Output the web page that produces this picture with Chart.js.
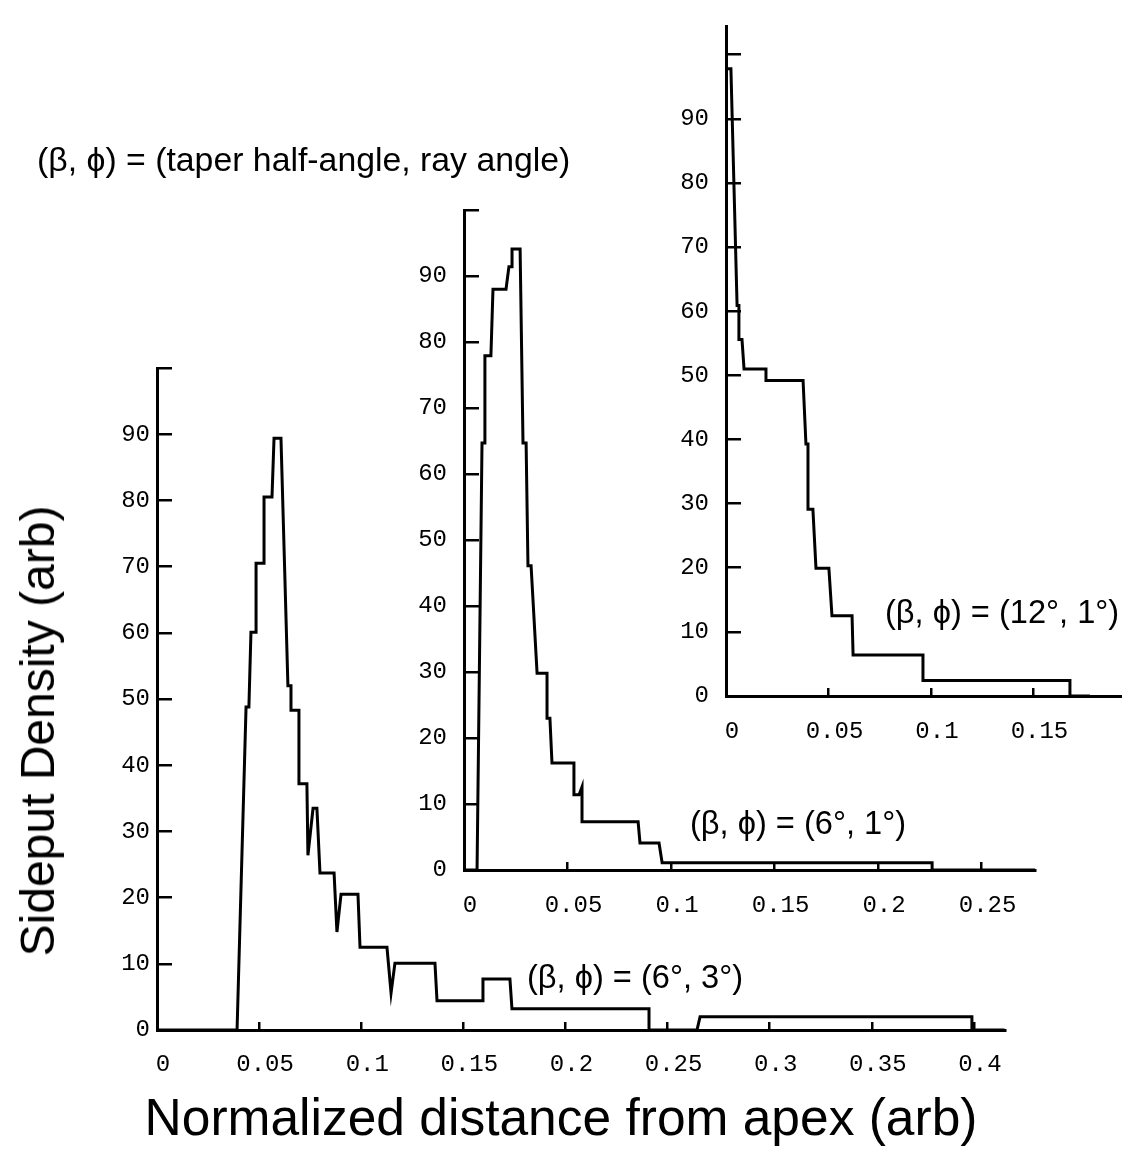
<!DOCTYPE html>
<html>
<head>
<meta charset="utf-8">
<script src="https://cdn.jsdelivr.net/npm/chart.js@4.4.1/dist/chart.umd.min.js"></script>
<style>
  body { margin: 0; background: #fff; }
  #wrap { position: relative; width: 1122px; height: 1154px; overflow: hidden; font-family: "Liberation Sans", Arial, sans-serif; color: #000; }
  canvas { position: absolute; left: 0; }
  .lbl { position: absolute; white-space: nowrap; line-height: 1; transform: translateY(-50%); }
</style>
</head>
<body>
<div id="wrap">
  <canvas id="panelA" width="1122" height="1154" style="top:0"></canvas>
  <canvas id="panelB" width="1122" height="1154" style="top:0"></canvas>
  <canvas id="panelC" width="1122" height="1174" style="top:-20px"></canvas>

  <div class="lbl" style="left:37px;top:160px;font-size:33.8px">(β, ϕ) = (taper half-angle, ray angle)</div>
  <div class="lbl" style="left:527px;top:977px;font-size:32.6px">(β, ϕ) = (6°, 3°)</div>
  <div class="lbl" style="left:690px;top:823px;font-size:32.6px">(β, ϕ) = (6°, 1°)</div>
  <div class="lbl" style="left:885px;top:612px;font-size:32.6px">(β, ϕ) = (12°, 1°)</div>

  <div class="lbl" style="left:38px;top:731px;font-size:48px;transform:translate(-50%,-50%) rotate(-90deg)">Sideput Density (arb)</div>
  <div class="lbl" style="left:561px;top:1118px;font-size:51.5px;transform:translate(-50%,-50%)">Normalized distance from apex (arb)</div>
</div>

<script>
// (beta, phi) = (6°, 3°) - big panel at the bottom left
const distA = [0, 0.0392, 0.0436, 0.0450, 0.0460, 0.0485, 0.0485, 0.0524, 0.0524, 0.0563, 0.0573, 0.0607, 0.0641, 0.0656, 0.0656, 0.0695, 0.0695, 0.0734, 0.0739, 0.0764, 0.0783, 0.0798, 0.0867, 0.0881, 0.0901, 0.0984, 0.0994, 0.1126, 0.1146, 0.1165, 0.1361, 0.1371, 0.1596, 0.1596, 0.1728, 0.1738, 0.2409, 0.2409, 0.2644, 0.2659, 0.3990, 0.3990, 0.415]
const densityA = [0, 0, 48.8, 48.8, 60.1, 60.1, 70.5, 70.5, 80.5, 80.5, 89.4, 89.4, 52, 52, 48.3, 48.3, 37.2, 37.2, 26.4, 33.5, 33.5, 23.7, 23.7, 14.8, 20.5, 20.5, 12.5, 12.5, 5.6, 10.1, 10.1, 4.4, 4.4, 7.7, 7.7, 3.2, 3.2, 0, 0, 2.0, 2.0, 0, 0]

// (6°, 1°) - middle panel
const distB = [0, 0.0063, 0.0087, 0.0101, 0.0101, 0.0130, 0.0140, 0.0203, 0.0217, 0.0232, 0.0232, 0.0271, 0.0285, 0.0300, 0.0309, 0.0324, 0.0353, 0.0401, 0.0401, 0.0415, 0.0425, 0.0531, 0.0531, 0.0556, 0.0570, 0.0570, 0.0841, 0.0850, 0.0942, 0.0957, 0.2261, 0.2261, 0.2758]
const densityB = [0, 0, 64.7, 64.7, 77.9, 77.9, 88.0, 88.0, 91.4, 91.4, 94.1, 94.1, 64.7, 64.7, 46.1, 46.1, 29.8, 29.8, 23.0, 23.0, 16.2, 16.2, 11.4, 11.4, 12.6, 7.3, 7.3, 4.1, 4.1, 1.1, 1.1, 0, 0]

// (12°, 1°) - top right panel
const distC = [0, 0, 0.0024, 0.0054, 0.0063, 0.0063, 0.0078, 0.0088, 0.0195, 0.0195, 0.0376, 0.0390, 0.0400, 0.0400, 0.0424, 0.0439, 0.0502, 0.0517, 0.0615, 0.0620, 0.0961, 0.0961, 0.1678, 0.1678, 0.1776]
const densityC = [0, 97.8, 97.8, 60.9, 60.9, 55.6, 55.6, 51.0, 51.0, 49.2, 49.2, 39.3, 39.3, 29.1, 29.1, 19.9, 19.9, 12.5, 12.5, 6.4, 6.4, 2.4, 2.4, 0, 0]

// tick values (100 gets a mark but no label)
const yTicks = [0, 10, 20, 30, 40, 50, 60, 70, 80, 90, 100]
const yLabels = [0, 10, 20, 30, 40, 50, 60, 70, 80, 90]
const xTicksA = [0, 0.05, 0.1, 0.15, 0.2, 0.25, 0.3, 0.35, 0.4]
const xTicksB = [0, 0.05, 0.1, 0.15, 0.2, 0.25]
const xTicksC = [0, 0.05, 0.1, 0.15]

const tickFont = { family: '"Liberation Mono", "DejaVu Sans Mono", monospace', size: 24 }
const axisBorder = { display: true, color: '#000', width: 3 }

function makePanel(id, xs, ys, cfg) {
    const points = xs.map((x, i) => ({ x: x, y: ys[i] }))

    return new Chart(document.getElementById(id), {
        type: 'line',
        data: {
            datasets: [{
                data: points,
                borderColor: '#000',
                borderWidth: 3,
                pointRadius: 0,
                tension: 0,
                fill: false
            }]
        },
        options: {
            responsive: false,
            animation: false,
            devicePixelRatio: 1,
            layout: { padding: cfg.padding },
            plugins: { legend: { display: false }, tooltip: { enabled: false } },
            scales: {
                x: {
                    type: 'linear',
                    min: 0,
                    max: cfg.xMax,
                    afterFit: s => { s.height = 50 },
                    afterBuildTicks: s => { s.ticks = cfg.xTicks.map(v => ({ value: v })) },
                    border: axisBorder,
                    // negative tick length puts the marks inside the plot
                    grid: { drawOnChartArea: false, tickLength: -8, lineWidth: 2.5, color: '#000' },
                    ticks: {
                        padding: cfg.xPad,
                        labelOffset: 6,
                        maxRotation: 0,
                        autoSkip: false,
                        color: '#000',
                        font: tickFont,
                        callback: v => String(+v.toFixed(2))
                    }
                },
                y: {
                    type: 'linear',
                    min: 0,
                    max: cfg.yMax,
                    afterFit: s => { s.width = 60 },
                    afterBuildTicks: s => { s.ticks = yTicks.map(v => ({ value: v })) },
                    border: axisBorder,
                    grid: { drawOnChartArea: false, tickLength: -15, lineWidth: 2.5, color: '#000' },
                    ticks: {
                        padding: cfg.yPad,
                        autoSkip: false,
                        color: '#000',
                        font: tickFont,
                        callback: v => yLabels.includes(v) ? String(v) : ''
                    }
                }
            }
        }
    })
}

makePanel('panelA', distA, densityA, {
    padding: { left: 97, right: 117, top: 368, bottom: 74 },
    xMax: 0.4152, yMax: 100, xTicks: xTicksA, xPad: 28, yPad: 22
})

makePanel('panelB', distB, densityB, {
    padding: { left: 404, right: 87, top: 210, bottom: 234 },
    xMax: 0.2758, yMax: 100, xTicks: xTicksB, xPad: 29, yPad: 32
})

makePanel('panelC', distC, densityC, {
    padding: { left: 666, right: 0, top: 30, bottom: 408 },
    xMax: 0.1932, yMax: 104.4, xTicks: xTicksC, xPad: 29, yPad: 32
})
</script>
</body>
</html>
